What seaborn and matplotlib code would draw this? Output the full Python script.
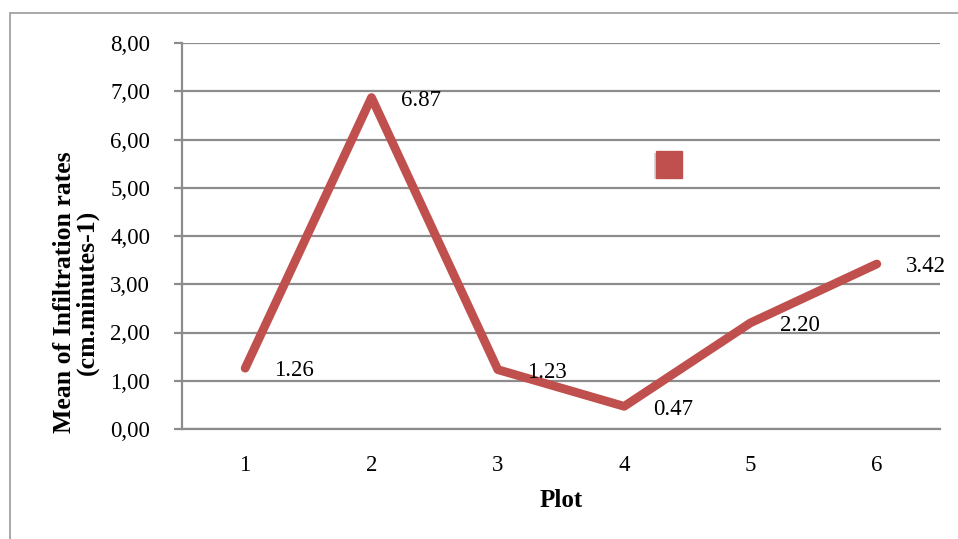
import matplotlib
matplotlib.use("Agg")
import matplotlib.pyplot as plt
import matplotlib.patheffects as pe
import seaborn as sns
import pandas as pd
from matplotlib.patches import Rectangle
from matplotlib.lines import Line2D

plots = [1, 2, 3, 4, 5, 6]
infiltration = [1.26, 6.87, 1.23, 0.47, 2.20, 3.42]
value_labels = ["1.26", "6.87", "1.23", "0.47", "2.20", "3.42"]
y_ticks = [0, 1, 2, 3, 4, 5, 6, 7, 8]
y_tick_labels = ["0,00", "1,00", "2,00", "3,00", "4,00", "5,00", "6,00", "7,00", "8,00"]

sns.set_theme(style="white")
plt.rcParams["font.family"] = ["Liberation Serif", "DejaVu Serif"]

W, H = 958, 539
fig = plt.figure(figsize=(W / 100, H / 100), dpi=100)
fig.patch.set_facecolor("white")
ax = fig.add_axes([182 / W, 1 - 429 / H, (940 - 182) / W, (429 - 43) / H])

df = pd.DataFrame({"Plot": plots, "Rate": infiltration})
color = "#C0504D"
sns.lineplot(data=df, x="Plot", y="Rate", ax=ax, color=color, linewidth=6.3,
             solid_joinstyle="round", solid_capstyle="round", legend=False)

ax.set_xlim(0.5, 6.5)
ax.set_ylim(0, 8)
ax.set_yticks(y_ticks)
ax.set_yticklabels(y_tick_labels)
ax.set_xticks(plots)
ax.set_xticklabels([str(p) for p in plots])
ax.yaxis.grid(True, color="#8c8c8c", linewidth=1.6)
ax.set_axisbelow(True)
for s in ["top", "right"]:
    ax.spines[s].set_visible(False)
ax.spines["left"].set_color("#8c8c8c")
ax.spines["left"].set_linewidth(1.6)
ax.spines["bottom"].set_color("#8c8c8c")
ax.spines["bottom"].set_linewidth(1.6)
ax.tick_params(axis="y", length=6, width=1.6, color="#8c8c8c", pad=17,
               labelsize=16.5, left=True, labelcolor="black")
ax.tick_params(axis="x", length=0, pad=19, labelsize=16.5, labelcolor="black")
ax.set_xlabel("Plot", fontsize=18, fontweight="bold", labelpad=9, color="black")
ax.set_ylabel("")

for x, y, t in zip(plots, infiltration, value_labels):
    ax.annotate(t, (x, y), xytext=(21, -2), textcoords="offset points",
                ha="left", va="center", fontsize=16.5, color="black", zorder=5)

fig.text(76 / W, 1 - 292 / H, "Mean of Infiltration rates\n(cm.minutes-1)",
         rotation=90, ha="center", va="center", multialignment="center",
         fontsize=18.5, fontweight="bold", linespacing=0.95, color="black")

handle = Line2D([], [], linestyle="none", marker="s", markersize=19,
                markerfacecolor=color, markeredgecolor=color,
                path_effects=[pe.SimplePatchShadow(offset=(-1.5, -1), alpha=0.18), pe.Normal()])
leg = fig.legend([handle], [""], loc="center", bbox_to_anchor=(669 / W, 1 - 166 / H),
                 frameon=False, handletextpad=0, handlelength=1, borderpad=0)

fig.add_artist(Rectangle((10 / W, -0.1), 1.2, 1.1 - 13 / H, transform=fig.transFigure,
                         fill=False, edgecolor="#9a9a9a", linewidth=1.2))

fig.savefig("out.png", dpi=100, facecolor="white")
